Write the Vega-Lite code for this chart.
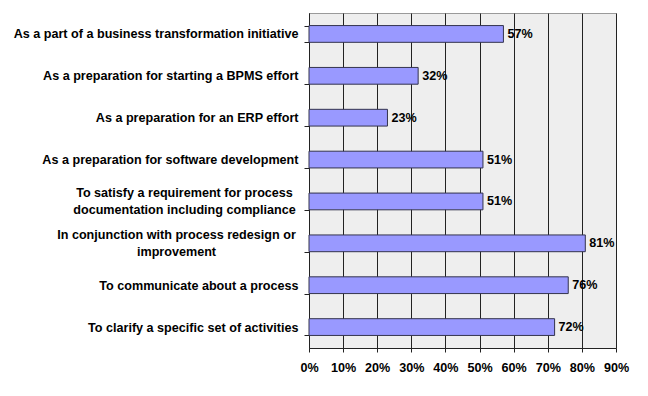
{
  "$schema": "https://vega.github.io/schema/vega-lite/v6.json",
  "width": 307,
  "height": 335,
  "autosize": {"type": "none"},
  "padding": {"left": 309, "top": 13, "right": 32, "bottom": 48},
  "background": "#ffffff",
  "data": {
    "values": [
      {"purpose": "As a part of a business transformation initiative", "share": 0.57},
      {"purpose": "As a preparation for starting a BPMS effort", "share": 0.32},
      {"purpose": "As a preparation for an ERP effort", "share": 0.23},
      {"purpose": "As a preparation for software development", "share": 0.51},
      {"purpose": "To satisfy a requirement for process documentation including compliance", "share": 0.51},
      {"purpose": "In conjunction with process redesign or improvement", "share": 0.81},
      {"purpose": "To communicate about a process", "share": 0.76},
      {"purpose": "To clarify a specific set of activities", "share": 0.72}
    ]
  },
  "encoding": {
    "y": {
      "field": "purpose",
      "type": "nominal",
      "sort": null,
      "title": null,
      "scale": {"paddingInner": 0.6, "paddingOuter": 0.3},
      "axis": {
        "tickBand": "extent",
        "tickSize": 5,
        "labelPadding": {
          "condition": [
            {"test": "indexof(datum.label, 'To satisfy') == 0", "value": 120},
            {"test": "indexof(datum.label, 'In conjunction') == 0", "value": 128}
          ],
          "value": 6
        },
        "labelAlign": {
          "condition": {"test": "indexof(datum.label, 'To satisfy') == 0 || indexof(datum.label, 'In conjunction') == 0", "value": "center"},
          "value": "right"
        },
        "labelOffset": {
          "condition": {"test": "indexof(datum.label, 'To satisfy') == 0 || indexof(datum.label, 'In conjunction') == 0", "value": -8.5},
          "value": 0
        },
        "labelExpr": "datum.label == 'To satisfy a requirement for process documentation including compliance' ? ['To satisfy a requirement for process', 'documentation including compliance'] : datum.label == 'In conjunction with process redesign or improvement' ? ['In conjunction with process redesign or', 'improvement'] : datum.label",
        "labelLineHeight": 17,
        "labelLimit": 400
      }
    },
    "x": {
      "field": "share",
      "type": "quantitative",
      "title": null,
      "scale": {"domain": [0, 0.9], "nice": false},
      "axis": {
        "values": [0, 0.1, 0.2, 0.3, 0.4, 0.5, 0.6, 0.7, 0.8, 0.9],
        "format": ".0%",
        "grid": true,
        "gridColor": "#222222",
        "gridOpacity": 1,
        "tickSize": 4,
        "labelPadding": 9,
        "labelFlush": false
      }
    }
  },
  "layer": [
    {
      "mark": {"type": "bar", "fill": "#9999ff", "stroke": "#33334d", "strokeWidth": 1}
    },
    {
      "mark": {"type": "text", "align": "left", "baseline": "middle", "dx": 4, "font": "Liberation Sans", "fontWeight": "bold", "fontSize": 12.6, "color": "#000000"},
      "encoding": {
        "text": {"field": "share", "type": "quantitative", "format": ".0%"}
      }
    }
  ],
  "config": {
    "view": {"fill": "#eeeeee", "stroke": "#9a9a9a", "strokeWidth": 1},
    "axis": {
      "labelFont": "Liberation Sans",
      "labelFontWeight": "bold",
      "labelFontSize": 12.6,
      "labelColor": "#000000",
      "domainColor": "#222222",
      "tickColor": "#222222",
      "domainWidth": 1,
      "tickWidth": 1
    }
  }
}
